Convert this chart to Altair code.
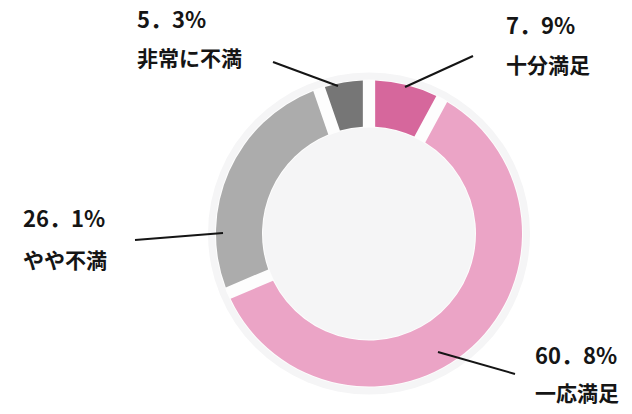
import altair as alt
import pandas as pd

# ---- data ----
categories = ["十分満足", "一応満足", "やや不満", "非常に不満"]
values = [7.9, 60.8, 26.1, 5.3]
value_labels = ["7．9%", "60．8%", "26．1%", "5．3%"]
colors = ["#d6679c", "#eba4c6", "#acacac", "#767676"]

# ---- layout (pixels, chart coordinates) ----
W, H = 616, 398
CX, CY = 361, 225.5
R_IN, R_OUT = 107, 153
R_BG = 161

label_x = [498, 527, 15, 129]
num_y = [19, 349, 212, 13]
cat_y = [59, 387, 254, 52]
line_x1 = [465, 507, 127, 265]
line_y1 = [48, 366, 232, 54]
line_x2 = [397, 430, 215, 330]
line_y2 = [79, 344, 225, 78]

FONT = "Noto Sans CJK JP"

df = pd.DataFrame({"cat": categories, "value": values, "order": list(range(len(categories)))})
lab = pd.DataFrame({
    "cat": categories, "num": value_labels,
    "lx": label_x, "ny": num_y, "cy": cat_y,
    "x1": line_x1, "y1": line_y1, "x2": line_x2, "y2": line_y2,
})

bg = alt.Chart(pd.DataFrame({"v": [1]})).mark_arc(
    theta=0, theta2=6.2832, innerRadius=0, outerRadius=R_BG, color="#f5f5f6"
).encode(x=alt.value(CX), y=alt.value(CY))

white_ring = alt.Chart(pd.DataFrame({"v": [1]})).mark_arc(
    theta=0, theta2=6.2832, innerRadius=R_IN - 1, outerRadius=R_OUT + 1, color="#fdfdfd"
).encode(x=alt.value(CX), y=alt.value(CY))

donut = alt.Chart(df).mark_arc(
    innerRadius=R_IN, outerRadius=R_OUT, padAngle=0.066
).encode(
    theta=alt.Theta("value:Q", stack=True),
    color=alt.Color("cat:N", scale=alt.Scale(domain=categories, range=colors), legend=None),
    order=alt.Order("order:Q"),
    x=alt.value(CX), y=alt.value(CY),
)

lines = alt.Chart(lab).mark_rule(color="#151515", strokeWidth=2).encode(
    x=alt.X("x1:Q", scale=None), y=alt.Y("y1:Q", scale=None),
    x2="x2:Q", y2="y2:Q",
)

nums = alt.Chart(lab).mark_text(
    align="left", baseline="middle", font=FONT, fontSize=22, fontWeight="bold", color="#151515"
).encode(x=alt.X("lx:Q", scale=None), y=alt.Y("ny:Q", scale=None), text="num:N")

cats = alt.Chart(lab).mark_text(
    align="left", baseline="middle", font=FONT, fontSize=21, fontWeight="bold", color="#151515"
).encode(x=alt.X("lx:Q", scale=None), y=alt.Y("cy:Q", scale=None), text="cat:N")

chart = alt.layer(bg, white_ring, donut, lines, nums, cats).resolve_scale(
    theta="independent"
).properties(
    width=W, height=H, autosize="none", padding=0, background="white"
).configure_view(stroke=None)

chart.save("out.html", embed_options={"renderer": "svg", "actions": False})
